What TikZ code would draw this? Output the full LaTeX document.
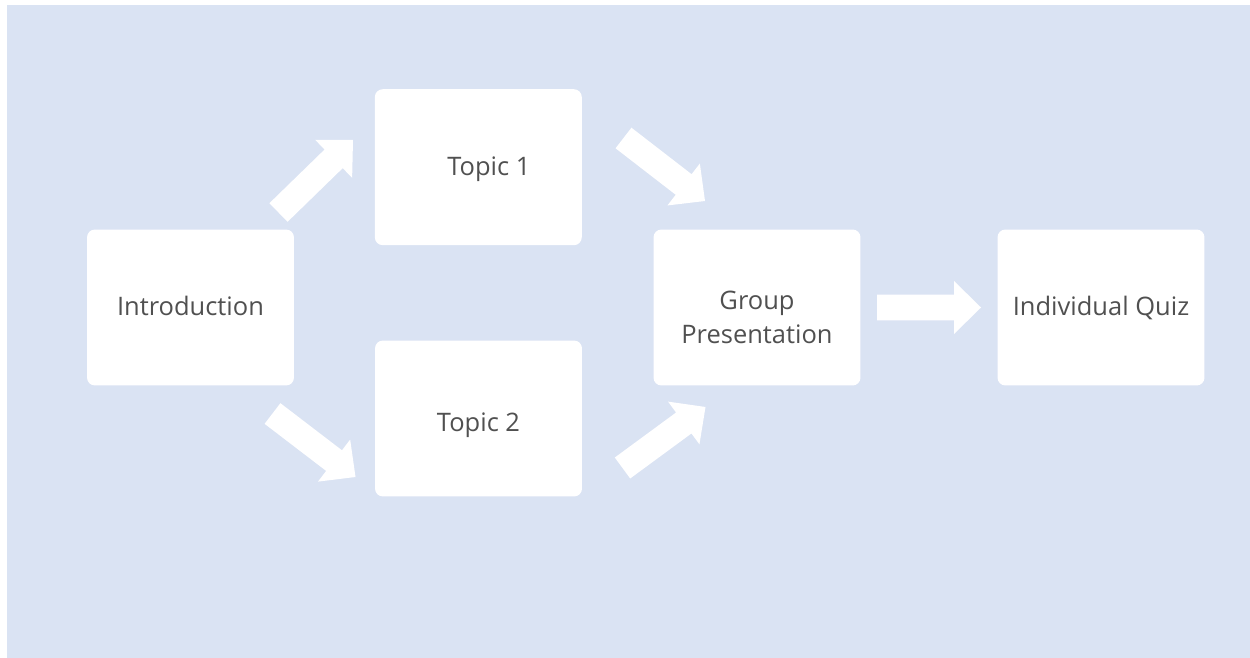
\documentclass[tikz,border=0pt]{standalone}
\usepackage{fontspec}
\setmainfont{Open Sans}
\usetikzlibrary{calc}
\definecolor{bgblue}{HTML}{DAE3F3}
\definecolor{txtgray}{HTML}{505050}
\newcommand{\arrSW}{0.26cm}
\newcommand{\arrHW}{0.53cm}
\newcommand{\arrHL}{0.54cm}
\newcommand{\blockarr}[2]{%
  \fill[arrowfill] ($(#1)!\arrSW!90:(#2)$)
    -- ($(#2)!\arrHL!(#1)!\arrSW!-90:(#1)$)
    -- ($(#2)!\arrHL!(#1)!\arrHW!-90:(#1)$)
    -- (#2)
    -- ($(#2)!\arrHL!(#1)!\arrHW!90:(#1)$)
    -- ($(#2)!\arrHL!(#1)!\arrSW!90:(#1)$)
    -- ($(#1)!\arrSW!-90:(#2)$) -- cycle;}
\tikzset{
  stage/.style={fill=white, rounded corners=4.5pt, minimum width=4.14cm,
    minimum height=3.12cm, inner sep=0pt},
  stagetext/.style={align=center, text=txtgray, inner sep=0pt,
    font=\fontsize{14.5}{19.6}\selectfont},
  arrowfill/.style={fill=white}
}
\begin{document}
\begin{tikzpicture}[x=0.02cm, y=-0.02cm]
\useasboundingbox (0,0) rectangle (1250,658);
\fill[bgblue] (7,5) rectangle (1250,658);
\node[stage, label={[stagetext, yshift=1pt]center:Introduction}] (intro) at (190.5,307.5) {};
\node[stage, label={[stagetext, xshift=6pt, yshift=-1pt]center:Topic 1}] (topic1) at (478.3,167.2) {};
\node[stage, label={[stagetext, yshift=-4pt]center:Topic 2}] (topic2) at (478.5,418.5) {};
\node[stage, label={[stagetext, yshift=-5.5pt]center:Group\\Presentation}] (group) at (757,307.5) {};
\node[stage, label={[stagetext, yshift=0pt]center:Individual Quiz}] (quiz) at (1101,307.5) {};
\coordinate (a1s) at (278.5,212.5);
\coordinate (a1e) at (353,140);
\coordinate (a2s) at (623.5,138);
\coordinate (a2e) at (705,201);
\coordinate (a3s) at (272.5,413.5);
\coordinate (a3e) at (355.5,477);
\coordinate (a4s) at (622.5,468);
\coordinate (a4e) at (705.5,407);
\coordinate (a5s) at (877,307.5);
\coordinate (a5e) at (981,307.5);
\blockarr{a1s}{a1e}
\blockarr{a2s}{a2e}
\blockarr{a3s}{a3e}
\blockarr{a4s}{a4e}
\blockarr{a5s}{a5e}
\end{tikzpicture}
\end{document}
